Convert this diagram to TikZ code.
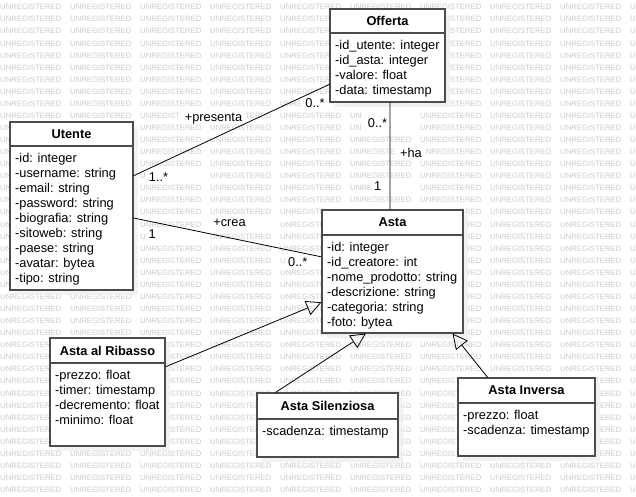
\documentclass[tikz,border=0pt]{standalone}
\usepackage{fontspec}
\setmainfont{Liberation Sans}
\usetikzlibrary{arrows.meta,calc,fit}

\tikzset{
  wm/.style={anchor=west, inner sep=0pt, text height=5.6pt, text depth=0pt, text=black!20, font=\fontsize{7.7}{8}\selectfont},
  shadowc/.style={fill=black!6, opacity=0.85},
  classbox/.style={draw=black!70, line width=1.2pt, fill=white, inner sep=0pt},
  classline/.style={draw=black!70, line width=1.2pt},
  titlef/.style={inner sep=0pt, font=\fontsize{12.8}{15}\selectfont\bfseries},
  attrf/.style={inner sep=0pt, font=\fontsize{12.8}{15}\selectfont},
  conn/.style={draw=black, line width=0.8pt},
  gen/.style={draw=black, line width=0.8pt, -{Triangle[open, length=15pt, width=15pt]}},
  lbl/.style={fill=white, inner sep=1pt, text height=9.5pt, text depth=1.5pt, font=\fontsize{12.8}{15}\selectfont}
}

% #1 name, #2 x1, #3 y1, #4 x2, #5 y2, #6 header y, #7 title, #8 attributes
\newcommand{\umlclass}[8]{%
  \coordinate (#1-nw) at (#2,#3);
  \coordinate (#1-se) at (#4,#5);
  \fill[shadowc] ($(#1-nw)+(5,5)$) rectangle ($(#1-se)+(5,5)$);
  \node[classbox, fit=(#1-nw)(#1-se)] (#1) {};
  \node[titlef] (#1-t) at ({(#2+#4)/2},{(#3+#6)/2}) {#7};
  \draw[classline] (#2,#6) -- (#4,#6);
  \foreach \a [count=\i] in {#8} {
    \node[attrf, anchor=base west] (#1-a\i) at ({#2+5},{#6+16.3+15*(\i-1)}) {\a};
  }%
}

\newif\ifwmshow
% regions where the watermark would touch diagram text (x1/y1/x2/y2)
\newcommand{\wmblock}{334/13/443/98, 14/126/119/286, 326/214/459/329, 54/342/161/424,
  261/397/389/438, 462/382/590/437,
  184/111/243/124, 304/97/326/110, 148/171/169/184, 212/216/247/229,
  148/228/157/240, 287/256/309/269, 367/117/388/130, 399/147/423/160, 373/180/383/193}
% class boxes (fully hidden watermark is skipped)
\newcommand{\wmboxes}{330/9/445/102, 10/122/133/290, 322/210/463/333, 50/338/165/446,
  257/393/398/457, 458/378/595/456}
\newcommand{\wmletter}[1]{\ifcase#1\or U\or N\or R\or E\or G\or I\or S\or T\or E\or R\or E\or D\fi}
\def\wmS{{0,5.56,11.12,16.68,21.82,27.81,29.95,35.09,39.79,44.93,50.49,55.63}}
\def\wmE{{5.56,11.12,16.68,21.82,27.81,29.95,35.09,39.79,44.93,50.49,55.63,61.19}}

\begin{document}
\begin{tikzpicture}[x=1pt,y=-1pt]
\useasboundingbox (0,0) rectangle (636,497);
\fill[white] (0,0) rectangle (636,497);

% watermark
\foreach \r in {0,...,40}{
  \foreach \c in {0,...,9}{
    \pgfmathsetmacro\wxa{\c*70}%
    \pgfmathsetmacro\wy{7+\r*12.07}%
    \pgfmathsetmacro\wya{\wy-3.5}%
    \pgfmathsetmacro\wyb{\wy+3.5}%
    \pgfmathsetmacro\tmpR{min(62,636-\wxa)+1}%
    \xdef\wmR{\tmpR}%
    \xdef\wmL{-1}%
    \global\wmshowtrue
    \foreach \ax/\ay/\bx/\by in \wmblock {%
      \pgfmathtruncatemacro\hit{and(and(\wxa+61.19>\ax,\wxa<\bx),and(\wyb>\ay,\wya<\by))}%
      \ifnum\hit=1
        \pgfmathtruncatemacro\leftside{\ax<=\wxa}%
        \ifnum\leftside=1
          \pgfmathsetmacro\tmp{max(\wmL,\bx-\wxa)}\xdef\wmL{\tmp}%
        \else
          \pgfmathsetmacro\tmp{min(\wmR,\ax-\wxa)}\xdef\wmR{\tmp}%
        \fi
      \fi
    }%
    \foreach \ax/\ay/\bx/\by in \wmboxes {%
      \pgfmathtruncatemacro\hit{and(and(\wxa>=\ax,\wxa+61.19<=\bx),and(\wya>=\ay,\wyb<=\by))}%
      \ifnum\hit=1 \global\wmshowfalse\fi
    }%
    \ifwmshow
      \xdef\wmi{13}\xdef\wmj{0}%
      \foreach \k in {1,...,12}{%
        \pgfmathtruncatemacro\okk{and(\wmS[\k-1]>=\wmL+0.5,\wmE[\k-1]<=\wmR-0.5)}%
        \ifnum\okk=1
          \ifnum\k<\wmi \xdef\wmi{\k}\fi
          \ifnum\k>\wmj \xdef\wmj{\k}\fi
        \fi
      }%
      \ifnum\wmi>\wmj\else
        \xdef\wmtxt{}%
        \foreach \k in {\wmi,...,\wmj}{\xdef\wmtxt{\wmtxt\wmletter{\k}}}%
        \pgfmathsetmacro\wmx{\wxa+\wmS[\wmi-1]}%
        \node[wm] (wm-\r-\c) at (\wmx,\wy) {\wmtxt};
      \fi
    \fi
  }
}

% classes
\umlclass{offerta}{330}{9}{445}{102}{33}{Offerta}{-id\_utente: integer,-id\_asta: integer,-valore: float,-data: timestamp}
\umlclass{utente}{10}{122}{133}{290}{146}{Utente}{-id: integer,-username: string,-email: string,-password: string,-biografia: string,-sitoweb: string,-paese: string,-avatar: bytea,-tipo: string}
\umlclass{asta}{322}{210}{463}{333}{235}{Asta}{-id: integer,-id\_creatore: int,-nome\_prodotto: string,-descrizione: string,-categoria: string,-foto: bytea}
\umlclass{ribasso}{50}{338}{165}{446}{363}{Asta al Ribasso}{-prezzo: float,-timer: timestamp,-decremento: float,-minimo: float}
\umlclass{silenziosa}{257}{393}{398}{457}{419}{Asta Silenziosa}{-scadenza: timestamp}
\umlclass{inversa}{458}{378}{595}{456}{403}{Asta Inversa}{-prezzo: float,-scadenza: timestamp}

% associations
\draw[conn] ($(utente.north east)!0.321!(utente.south east)$) -- ($(offerta.north west)!0.806!(offerta.south west)$);
\draw[conn] ($(utente.north east)!0.571!(utente.south east)$) -- ($(asta.north west)!0.382!(asta.south west)$);
\draw[conn] ($(offerta.south west)!0.522!(offerta.south east)$) -- ($(asta.north west)!0.482!(asta.north east)$);

% generalizations
\draw[gen] ($(ribasso.north east)!0.269!(ribasso.south east)$) -- ($(asta.north west)!0.748!(asta.south west)$);
\draw[gen] ($(silenziosa.north west)!0.135!(silenziosa.north east)$) -- ($(asta.south west)!0.312!(asta.south east)$);
\draw[gen] ($(inversa.north west)!0.219!(inversa.north east)$) -- ($(asta.south west)!0.922!(asta.south east)$);

% labels
\node[lbl] (l-presenta) at (213.5,117.3) {+presenta};
\node[lbl] (l-pres-o) at (315,103.3) {0..*};
\node[lbl] (l-pres-u) at (158.5,177.3) {1..*};
\node[lbl] (l-crea) at (229.5,222.7) {+crea};
\node[lbl] (l-crea-u) at (152.3,234) {1};
\node[lbl] (l-crea-a) at (297.8,262.7) {0..*};
\node[lbl] (l-ha-o) at (377.5,123.3) {0..*};
\node[lbl] (l-ha) at (411,153.3) {+ha};
\node[lbl] (l-ha-a) at (377.7,186.7) {1};
\end{tikzpicture}
\end{document}
